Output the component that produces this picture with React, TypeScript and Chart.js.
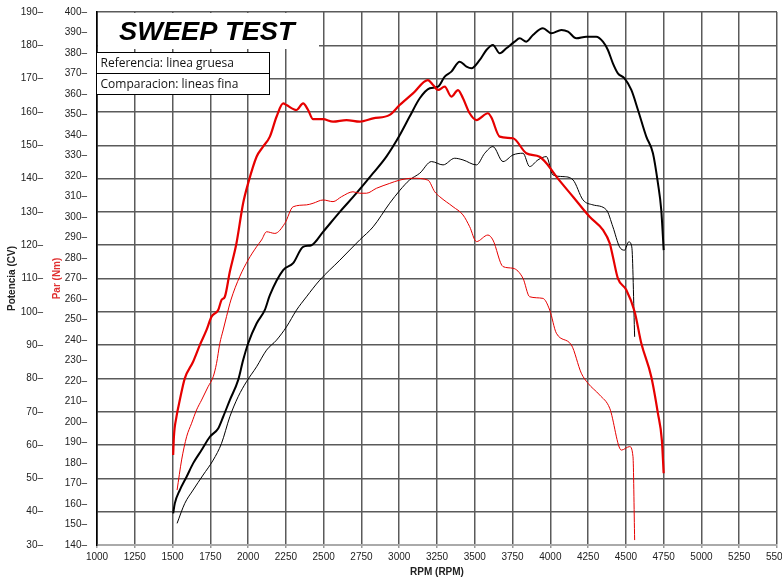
import React, { useEffect, useRef } from "react";
import { Chart, registerables } from "chart.js";
Chart.register(...registerables);

// ---- Axis ranges / tick steps ----
const rpmMin = 1000;
const rpmMax = 5500;
const rpmStep = 250;
const powerMin = 30;
const powerMax = 190;
const torqueMin = 140;
const torqueMax = 400;
const yStep = 10;

// ---- Torque, reference (thick red), Nm ----
const rpmTorqueRef = [1504, 1509, 1526, 1548, 1581, 1636, 1681, 1725, 1758, 1802, 1824, 1846, 1879, 1923, 1967, 2000, 2056, 2099, 2144, 2188, 2232, 2254, 2320, 2364, 2397, 2430, 2496, 2562, 2651, 2739, 2827, 2937, 3003, 3091, 3190, 3224, 3257, 3301, 3345, 3389, 3422, 3466, 3511, 3587, 3610, 3665, 3753, 3841, 3929, 3974, 4040, 4150, 4260, 4348, 4393, 4414, 4447, 4503, 4558, 4602, 4668, 4712, 4738, 4750];
const torqueRef = [183.9, 192.8, 202.6, 210.7, 221.3, 229.4, 237.6, 244.9, 251.4, 254.6, 259.5, 261.1, 273.3, 287.2, 306.7, 316.4, 329.4, 334.3, 339.2, 348.9, 355.4, 354.6, 352.2, 355.4, 352.2, 347.7, 347.7, 346.5, 347.3, 346.5, 348.1, 349.8, 354.6, 360.3, 366.8, 364.4, 362.0, 363.6, 358.7, 361.9, 357.9, 350.6, 347.3, 350.6, 348.5, 339.2, 338.4, 331.1, 329.4, 326.2, 319.7, 309.9, 300.1, 293.7, 287.2, 280.6, 270.1, 264.4, 253.8, 238.4, 222.1, 204.2, 191.2, 175.0];

// ---- Torque, comparison (thin red), Nm ----
const rpmTorqueCmp = [1530, 1560, 1593, 1626, 1659, 1692, 1735, 1769, 1791, 1813, 1835, 1857, 1886, 1945, 2000, 2056, 2089, 2122, 2177, 2243, 2298, 2386, 2430, 2496, 2562, 2618, 2694, 2739, 2783, 2849, 2937, 3003, 3091, 3190, 3235, 3268, 3356, 3422, 3466, 3511, 3587, 3620, 3687, 3753, 3819, 3863, 3951, 3996, 4040, 4139, 4205, 4249, 4326, 4393, 4470, 4525, 4547, 4558];
const torqueCmp = [166.8, 181.5, 192.8, 199.4, 205.9, 210.7, 217.2, 222.1, 228.6, 238.4, 244.9, 251.4, 259.5, 271.0, 279.0, 285.5, 288.8, 292.8, 292.0, 296.9, 305.0, 305.9, 306.7, 308.3, 307.5, 309.9, 312.3, 311.6, 311.6, 314.0, 316.4, 318.0, 318.9, 318.0, 312.3, 309.9, 305.0, 301.0, 295.3, 288.0, 291.2, 288.8, 275.8, 275.0, 270.1, 261.1, 260.3, 254.6, 243.3, 237.6, 223.8, 218.9, 213.2, 206.7, 186.3, 188.0, 183.1, 142.4];

// ---- Power, reference (thick black), CV ----
const rpmPowerRef = [1504, 1515, 1548, 1593, 1636, 1692, 1747, 1802, 1835, 1879, 1934, 1967, 2000, 2056, 2110, 2144, 2232, 2298, 2364, 2419, 2496, 2607, 2717, 2827, 2915, 3003, 3069, 3136, 3202, 3257, 3301, 3345, 3400, 3445, 3478, 3533, 3577, 3620, 3665, 3709, 3764, 3797, 3841, 3885, 3951, 4007, 4073, 4117, 4172, 4238, 4304, 4348, 4381, 4414, 4447, 4491, 4536, 4580, 4635, 4679, 4712, 4734, 4750];
const powerRef = [39.5, 42.5, 46.5, 50.5, 54.5, 58.5, 62.5, 65.0, 68.5, 73.5, 79.5, 85.5, 90.5, 96.5, 100.5, 105.0, 112.5, 114.6, 119.5, 120.0, 124.0, 130.0, 135.6, 141.6, 146.6, 153.0, 158.6, 164.1, 167.1, 167.6, 170.6, 172.1, 175.1, 173.6, 173.1, 175.6, 178.6, 180.1, 177.6, 179.1, 181.1, 182.1, 181.1, 183.1, 185.1, 183.6, 184.6, 184.1, 182.1, 182.6, 182.6, 181.1, 178.6, 174.6, 171.6, 170.1, 166.6, 160.6, 152.6, 147.6, 138.6, 130.6, 118.5];

// ---- Power, comparison (thin black), CV ----
const rpmPowerCmp = [1530, 1581, 1636, 1702, 1769, 1824, 1879, 1934, 1989, 2056, 2122, 2188, 2254, 2320, 2386, 2474, 2607, 2739, 2827, 2937, 3003, 3069, 3136, 3213, 3290, 3367, 3422, 3511, 3566, 3620, 3687, 3753, 3819, 3863, 3918, 3974, 4017, 4083, 4150, 4216, 4282, 4371, 4414, 4458, 4491, 4519, 4539, 4558];
const powerCmp = [36.5, 42.5, 46.5, 51.0, 55.5, 60.5, 68.5, 74.5, 79.0, 83.5, 88.5, 91.5, 95.5, 100.5, 104.5, 109.5, 115.5, 121.6, 125.5, 132.6, 136.4, 139.6, 141.6, 145.1, 144.1, 146.1, 145.6, 144.1, 147.6, 149.6, 145.1, 147.1, 147.6, 143.6, 145.6, 146.6, 141.1, 140.6, 139.6, 133.6, 132.1, 130.6, 125.5, 119.5, 118.5, 121.0, 119.5, 92.5];

// ---- Texts ----
const titleText = "SWEEP TEST";
const legendLines = ["Referencia: linea gruesa", "Comparacion: lineas fina"];
const xTitle = "RPM (RPM)";
const powerTitle = "Potencia (CV)";
const torqueTitle = "Par (Nm)";

const pts = (xs: number[], ys: number[]) => xs.map((x, i) => ({ x, y: ys[i] }));

const RED = "#e60000";
const GRID = "#5a5a5a";

const overlayPlugin = {
  id: "overlayBoxes",
  beforeDatasetsDraw(chart: any) {
    const ctx = chart.ctx as CanvasRenderingContext2D;
    const a = chart.chartArea;
    ctx.save();
    // title box (white, no border)
    ctx.fillStyle = "#fff";
    ctx.fillRect(a.left + 1, a.top + 1, 221, 36);
    ctx.fillStyle = "#000";
    ctx.font = "italic bold 25px 'Liberation Sans', Arial, sans-serif";
    ctx.textBaseline = "alphabetic";
    ctx.save();
    ctx.translate(a.left + 22, a.top + 28);
    ctx.scale(1.09, 1);
    ctx.fillText(titleText, 0, 0);
    ctx.restore();
    // legend box
    const lx = a.left - 0.5;
    const ly = a.top + 40.5;
    const lw = 173;
    const rh = 21;
    ctx.fillStyle = "#fff";
    ctx.fillRect(lx, ly, lw, rh * 2);
    ctx.strokeStyle = "#000";
    ctx.lineWidth = 1;
    ctx.strokeRect(lx, ly, lw, rh * 2);
    ctx.beginPath();
    ctx.moveTo(lx, ly + rh);
    ctx.lineTo(lx + lw, ly + rh);
    ctx.stroke();
    ctx.fillStyle = "#111";
    ctx.font = "12px 'Open Sans', 'Noto Sans', sans-serif";
    ctx.textBaseline = "middle";
    legendLines.forEach((t, i) => ctx.fillText(t, lx + 4, ly + rh * i + rh / 2 + 0.5));
    ctx.restore();
  },
};

export default function App() {
  const ref = useRef<HTMLCanvasElement>(null);
  useEffect(() => {
    Chart.defaults.font.family = "'Liberation Sans', Arial, sans-serif";
    Chart.defaults.color = "#222";
    const chart = new Chart(ref.current!, {
      type: "line",
      data: {
        datasets: [
          { label: "Par ref", data: pts(rpmTorqueRef, torqueRef), yAxisID: "torque", borderColor: RED, borderWidth: 2.2, pointRadius: 0, cubicInterpolationMode: "monotone" },
          { label: "Par cmp", data: pts(rpmTorqueCmp, torqueCmp), yAxisID: "torque", borderColor: RED, borderWidth: 1, pointRadius: 0, cubicInterpolationMode: "monotone" },
          { label: "Pot ref", data: pts(rpmPowerRef, powerRef), yAxisID: "power", borderColor: "#000", borderWidth: 2, pointRadius: 0, cubicInterpolationMode: "monotone" },
          { label: "Pot cmp", data: pts(rpmPowerCmp, powerCmp), yAxisID: "power", borderColor: "#000", borderWidth: 1, pointRadius: 0, cubicInterpolationMode: "monotone" },
        ],
      },
      options: {
        responsive: false,
        animation: false,
        events: [],
        layout: { padding: { top: 12, right: 5, left: 0, bottom: 0 } },
        plugins: { legend: { display: false }, tooltip: { enabled: false } },
        scales: {
          x: {
            type: "linear",
            min: rpmMin,
            max: rpmMax,
            ticks: { stepSize: rpmStep, autoSkip: false, maxRotation: 0, padding: 3, font: { size: 10 }, color: "#222", callback: (v: any) => String(v) },
            grid: { color: (c: any) => (c.tick && c.tick.value === rpmMin ? "#000" : GRID), lineWidth: 1.5, drawTicks: true, tickLength: 3, tickColor: "#999" },
            border: { color: "#aaa", width: 2 },
            title: { display: true, text: xTitle, font: { size: 10, weight: "bold" }, color: "#222", padding: { top: 2, bottom: 7 } },
            afterFit: (s: any) => { s.height = 40; s.paddingLeft = 0; s.paddingRight = 0; },
          },
          power: {
            type: "linear",
            position: "left",
            weight: 1,
            min: powerMin,
            max: powerMax,
            ticks: { stepSize: yStep, padding: 5, font: { size: 10 }, color: "#222", callback: (v: any) => v + "–" },
            grid: { drawTicks: false, color: (c: any) => (c.tick && c.tick.value === powerMin ? "rgba(0,0,0,0)" : GRID), lineWidth: 1.5 },
            border: { display: false },
            title: { display: true, text: powerTitle, font: { size: 10, weight: "bold" }, color: "#222", padding: { top: 6, bottom: 0 } },
            afterFit: (s: any) => { s.width = 48; s.paddingTop = 0; s.paddingBottom = 0; },
          },
          torque: {
            type: "linear",
            position: "left",
            weight: 0,
            min: torqueMin,
            max: torqueMax,
            ticks: { stepSize: yStep, padding: 10, font: { size: 10 }, color: "#222", callback: (v: any) => v + "–" },
            grid: { drawTicks: false, drawOnChartArea: false },
            border: { color: "#000", width: 1.5 },
            title: { display: true, text: torqueTitle, font: { size: 10, weight: "bold" }, color: "#e03030", padding: { top: 3, bottom: 0 } },
            afterFit: (s: any) => { s.width = 49; s.paddingTop = 0; s.paddingBottom = 0; },
          },
        },
      },
      plugins: [overlayPlugin],
    } as any);
    return () => chart.destroy();
  }, []);
  return (
    <div style={{ position: "fixed", left: 0, top: 0, width: 782, height: 585, background: "#fff", overflow: "hidden" }}>
      <canvas ref={ref} width={782} height={585} style={{ display: "block", width: 782, height: 585 }} />
    </div>
  );
}
